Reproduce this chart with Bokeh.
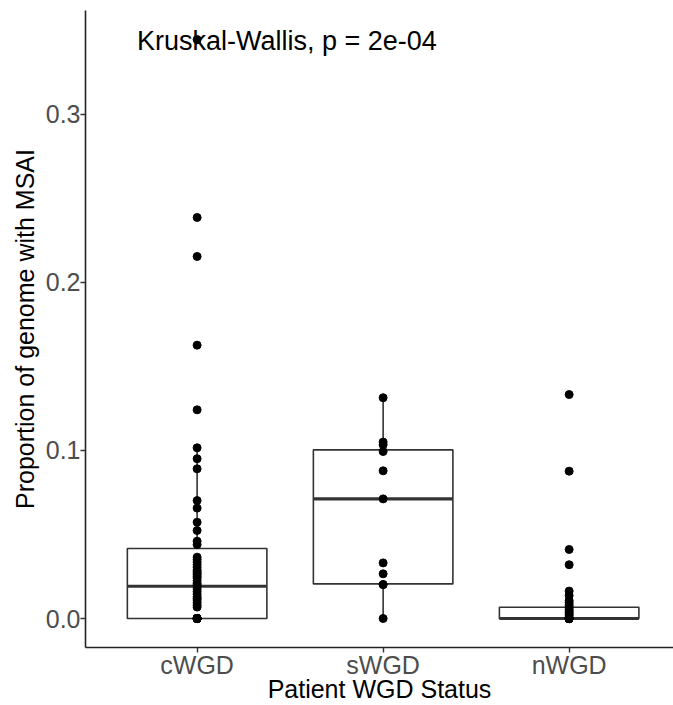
from bokeh.plotting import figure
from bokeh.models import Range1d, FixedTicker, NumeralTickFormatter
from bokeh.core.properties import value
from bokeh.embed import file_html
from bokeh.resources import INLINE

# ---- data ----
categories = ["cWGD", "sWGD", "nWGD"]

cwgd_values = [0.3446, 0.2387, 0.2155, 0.1627, 0.1242, 0.1016, 0.0951, 0.0891,
               0.0702, 0.0657, 0.0573, 0.0524, 0.0460, 0.0440,
               0.0365, 0.0350, 0.0335, 0.0320, 0.0305, 0.0290, 0.0280, 0.0270,
               0.0260, 0.0250, 0.0240, 0.0225, 0.0210, 0.0200, 0.0190,
               0.0175, 0.0160, 0.0145, 0.0130, 0.0120, 0.0110, 0.0095, 0.0080, 0.0068,
               0.0, 0.0, 0.0, 0.0, 0.0, 0.0, 0.0, 0.0, 0.0, 0.0, 0.0, 0.0]
swgd_values = [0.1314, 0.1050, 0.1034, 0.0994, 0.0879, 0.0712, 0.0331, 0.0266,
               0.0202, 0.0202, 0.0]
nwgd_values = [0.1333, 0.0877, 0.0411, 0.0320, 0.0163, 0.0137, 0.0107, 0.0095,
               0.0080, 0.0068, 0.0055, 0.0045, 0.0035, 0.0025, 0.0015,
               0.0, 0.0, 0.0, 0.0, 0.0, 0.0, 0.0, 0.0, 0.0, 0.0, 0.0, 0.0,
               0.0, 0.0, 0.0, 0.0, 0.0, 0.0, 0.0, 0.0, 0.0, 0.0, 0.0]

box_q1 = [0.0, 0.0206, 0.0]
box_median = [0.0192, 0.0712, 0.0]
box_q3 = [0.0417, 0.1004, 0.0067]
whisker_low = [0.0, 0.0, 0.0]
whisker_high = [0.1016, 0.1314, 0.0163]

y_ticks = [0.0, 0.1, 0.2, 0.3]
test_label = "Kruskal-Wallis, p = 2e-04"
x_title = "Patient WGD Status"
y_title = "Proportion of genome with MSAI"

# ---- layout / style ----
FONT = "Liberation Sans"
xpos = [i + 1 for i in range(len(categories))]
box_w = 0.75

p = figure(width=673, height=705, output_backend="svg", toolbar_location=None,
           x_range=Range1d(0.4, 3.561), y_range=Range1d(-0.01726, 0.3619),
           min_border_left=85, min_border_right=0, min_border_top=10,
           min_border_bottom=58)
p.background_fill_color = "white"
p.border_fill_color = "white"
p.outline_line_color = None
p.grid.visible = False

# whiskers
p.segment(x0=xpos, y0=box_q3, x1=xpos, y1=whisker_high, line_color="#333333", line_width=1.6)
p.segment(x0=xpos, y0=whisker_low, x1=xpos, y1=box_q1, line_color="#333333", line_width=1.6)
# boxes
p.vbar(x=xpos, width=box_w, bottom=box_q1, top=box_q3, fill_color="white",
       line_color="#333333", line_width=1.6)
# medians
p.segment(x0=[x - box_w / 2 for x in xpos], y0=box_median,
          x1=[x + box_w / 2 for x in xpos], y1=box_median,
          line_color="#333333", line_width=3.2)

# points
for xi, vals in zip(xpos, [cwgd_values, swgd_values, nwgd_values]):
    p.scatter(x=[xi] * len(vals), y=vals, size=8, fill_color="black",
              line_color="black")

# test annotation
p.text(x=[0.677], y=[0.344], text=[test_label], text_font=value(FONT),
       text_font_size="27px", text_color="black", text_align="left",
       text_baseline="alphabetic")

# axes
for ax in (p.xaxis[0], p.yaxis[0]):
    ax.axis_line_color = "#222222"
    ax.axis_line_width = 1.6
    ax.major_tick_line_color = "#333333"
    ax.major_tick_line_width = 1.4
    ax.major_tick_in = 0
    ax.major_tick_out = 5
    ax.minor_tick_line_color = None
    ax.major_label_text_font = FONT
    ax.major_label_text_font_size = "25px"
    ax.major_label_text_color = "#4D4D4D"
    ax.axis_label_text_font = FONT
    ax.axis_label_text_font_size = "25px"
    ax.axis_label_text_font_style = "normal"
    ax.axis_label_text_color = "black"

p.xaxis.ticker = FixedTicker(ticks=xpos)
p.xaxis.major_label_overrides = {x: c for x, c in zip(xpos, categories)}
p.xaxis.axis_label = x_title
p.xaxis.major_label_standoff = -2
p.xaxis.axis_label_standoff = -7

p.yaxis.ticker = FixedTicker(ticks=y_ticks)
p.yaxis.formatter = NumeralTickFormatter(format="0.0")
p.yaxis.axis_label = y_title
p.yaxis.major_label_standoff = 0
p.yaxis.axis_label_standoff = 4

open("out.html", "w").write(file_html(p, INLINE))
